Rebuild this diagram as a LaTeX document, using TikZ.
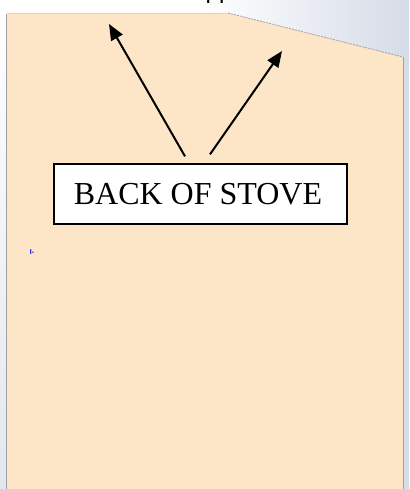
\documentclass[tikz,border=0pt]{standalone}
\usepackage{fontspec}
\setmainfont{Liberation Serif}
\newfontfamily\sansf{Liberation Sans}
\usetikzlibrary{arrows.meta}
\definecolor{peach}{RGB}{253,229,200}
\definecolor{bgblue}{RGB}{214,220,232}
\definecolor{edgegray}{RGB}{160,160,160}
\begin{document}
\begin{tikzpicture}[x=1pt,y=-1pt,
  arrowline/.style={line width=2pt, -{Triangle[length=16pt,width=13pt]}},
  labelbox/.style={draw, line width=1.3pt, fill=white, minimum width=293pt, minimum height=60pt, inner sep=0pt},
  edgeline/.style={edgegray, line width=0.8pt}]
\useasboundingbox (0,0) rectangle (409,489);
\fill[white] (0,0) rectangle (409,489);
\shade[left color=white, right color=bgblue] (200,0) rectangle (409,489);
\shade[top color=white, bottom color=bgblue!70] (0,0) rectangle (6,489);
\fill[peach] (7,13) -- (228,13) -- (403,57) -- (403,489) -- (7,489) -- cycle;
\draw[edgeline] (6.5,14) -- (6.5,489);
\draw[edgeline] (403.5,57) -- (403.5,489);
\draw[edgeline, dash pattern=on 2pt off 1pt] (228,13) -- (403,57);
\draw[peach!80!gray, line width=0.5pt] (7,13) -- (228,13);
% cut-off text at top
\node[font=\sansf\fontsize{24}{24}\selectfont, anchor=base, inner sep=0pt] (toptext) at (219,-1) {pp};
% label box
\node[labelbox] (box) at (200.5,194) {};
\node[font=\fontsize{32}{32}\selectfont, inner sep=0pt] (label) at (198,194) {BACK OF STOVE};
% arrow tips
\coordinate (tipL) at (109,24);
\coordinate (tipR) at (282,51);
\draw[arrowline] ([xshift=-15.5pt,yshift=7pt]box.north) -- (tipL);
\draw[arrowline] ([xshift=9.5pt,yshift=9pt]box.north) -- (tipR);
% small blue mark
\node[text=blue, font=\sansf\bfseries\fontsize{7}{7}\selectfont, inner sep=0pt] (mark) at (32,252) {I-};
\end{tikzpicture}
\end{document}
